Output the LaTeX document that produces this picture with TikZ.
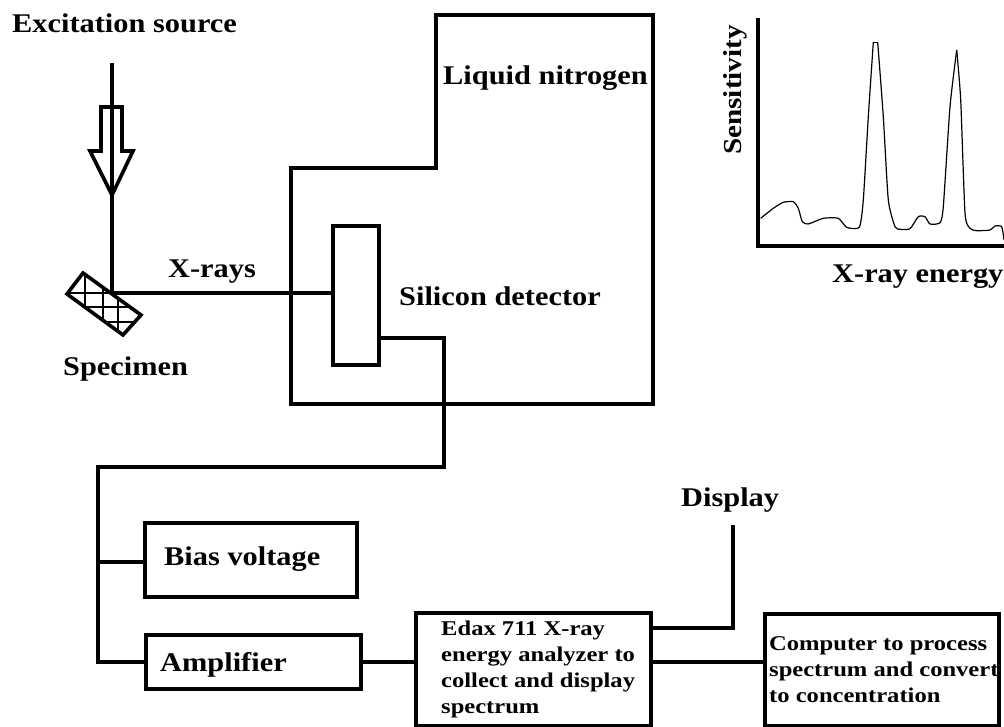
\documentclass[tikz,border=0pt]{standalone}
\usepackage{fontspec}
\setmainfont{Liberation Serif}
\newfontfamily\wideserif[FakeStretch=1.125]{Liberation Serif}
\newfontfamily\wideserifb[FakeStretch=1.17]{Liberation Serif}
\usetikzlibrary{calc}
\tikzset{
 wire/.style={line width=3.6pt,draw=black,line join=miter},
 thickbox/.style={draw=black,line width=4pt,rectangle,inner sep=0pt},
 lab/.style={font=\wideserif\bfseries\fontsize{27}{30}\selectfont,inner sep=0pt,anchor=base west,text=black},
 small/.style={font=\wideserifb\bfseries\fontsize{21}{26}\selectfont,inner sep=0pt,align=left,text=black},
}
\begin{document}
\begin{tikzpicture}[x=1pt,y=-1pt]
\useasboundingbox (0,0) rectangle (1004,727);
% cryostat
\draw[wire] (291,168) -- (436,168) -- (436,15) -- (653,15) -- (653,404) -- (291,404) -- cycle;
% boxes
\node[thickbox,minimum width=46pt,minimum height=139pt] (det) at (356,295.5) {};
\node[thickbox,minimum width=212.5pt,minimum height=74pt] (bias) at (251,560) {};
\node[thickbox,minimum width=215pt,minimum height=54.5pt] (amp) at (253.5,662) {};
\node[thickbox,minimum width=235pt,minimum height=113pt] (edax) at (533.5,669.5) {};
\node[thickbox,minimum width=234pt,minimum height=112pt] (comp) at (882,670) {};
% specimen
\coordinate (sa) at (83,273);
\coordinate (sb) at (141,315);
\coordinate (sc) at (123,335);
\coordinate (sd) at (67,294);
\begin{scope}
\clip (sa) -- (sb) -- (sc) -- (sd) -- cycle;
\draw[line width=1.2pt] (85,265) -- (85,340) (103,265) -- (103,340) (118,265) -- (118,340)
  (60,293) -- (145,293) (60,307) -- (145,307) (60,322) -- (145,322);
\end{scope}
\draw[wire] (sa) -- (sb) -- (sc) -- (sd) -- cycle;
% excitation beam
\coordinate (src) at (112,63);
\coordinate (spec) at (112,293);
\draw[wire] (src) -- (spec) -- (det.west |- spec);
\draw[wire] (101,107) -- (122,107) -- (122,151) -- (133,151) -- (112,195) -- (90,151) -- (101,151) -- cycle;
% wiring
\coordinate (j1) at (444,338);
\coordinate (j2) at (444,467);
\coordinate (j3) at (98,467);
\coordinate (j4) at (98,562);
\draw[wire] (det.east |- j1) -- (j1) -- (j2) -- (j3) -- (j3 |- amp.west) -- (amp.west);
\draw[wire] (j4) -- (bias.west |- j4);
\draw[wire] (amp.east) -- (edax.west |- amp.east);
\draw[wire] (edax.east |- amp.east) -- (comp.west |- amp.east);
\coordinate (dtop) at (733,525);
\draw[wire] (edax.east |- 0,628) -- (733,628) -- (dtop);
% graph
\draw[wire,line width=4pt] (758,18) -- (758,246) -- (1004,246);
\draw[line width=1.2pt,line join=round] plot[smooth,tension=0.35] coordinates {
(760.7,218.3) (773.3,208.3) (783.3,202.3) (793.3,201.7) (798.3,208.3) (802.3,221.7) (808.3,224) (823.3,218.3) (838.3,218.3) (846.7,227.3) (859.3,227.3) (863.3,200) (868.3,116.7) (873.3,42.3)};
\draw[line width=1.2pt,line join=round] (873.3,42.3) -- (877.7,42.3);
\draw[line width=1.2pt,line join=round] plot[smooth,tension=0.35] coordinates {
(877.7,42.3) (883.3,116.7) (888.3,200) (895,226.7) (900,229.3) (910,228.7) (918.3,216.7) (925,216.7) (930,224) (940,222.7) (943.3,206.7) (950,106.7) (956.7,50)};
\draw[line width=1.2pt,line join=round] plot[smooth,tension=0.35] coordinates {
(956.7,50) (960.7,100) (965,213.3) (970,228.3) (976.7,230.7) (990,230) (995,226) (1001.7,226.7) (1004,240)};
% labels
\node[lab] (t1) at (12,33) {Excitation source};
\node[lab] (t2) at (443,85) {Liquid nitrogen};
\node[lab] (t3) at (168,278) {X-rays};
\node[lab] (t4) at (399,306) {Silicon detector};
\node[lab] (t5) at (63,375) {Specimen};
\node[lab] (t6) at (832,283) {X-ray energy};
\node[lab,rotate=90,scale=0.96] (t7) at (741,155) {Sensitivity};
\node[lab] (t8) at (681,506) {Display};
\node[lab] (t9) at (164,565) {Bias voltage};
\node[lab] (t10) at (160,671) {Amplifier};
\node[small,anchor=north west] (t11) at (441,621) {Edax 711 X-ray\\energy analyzer to\\collect and display\\spectrum};
\node[small,anchor=north west] (t12) at (769,636) {Computer to process\\spectrum and convert\\to concentration};
\end{tikzpicture}
\end{document}
